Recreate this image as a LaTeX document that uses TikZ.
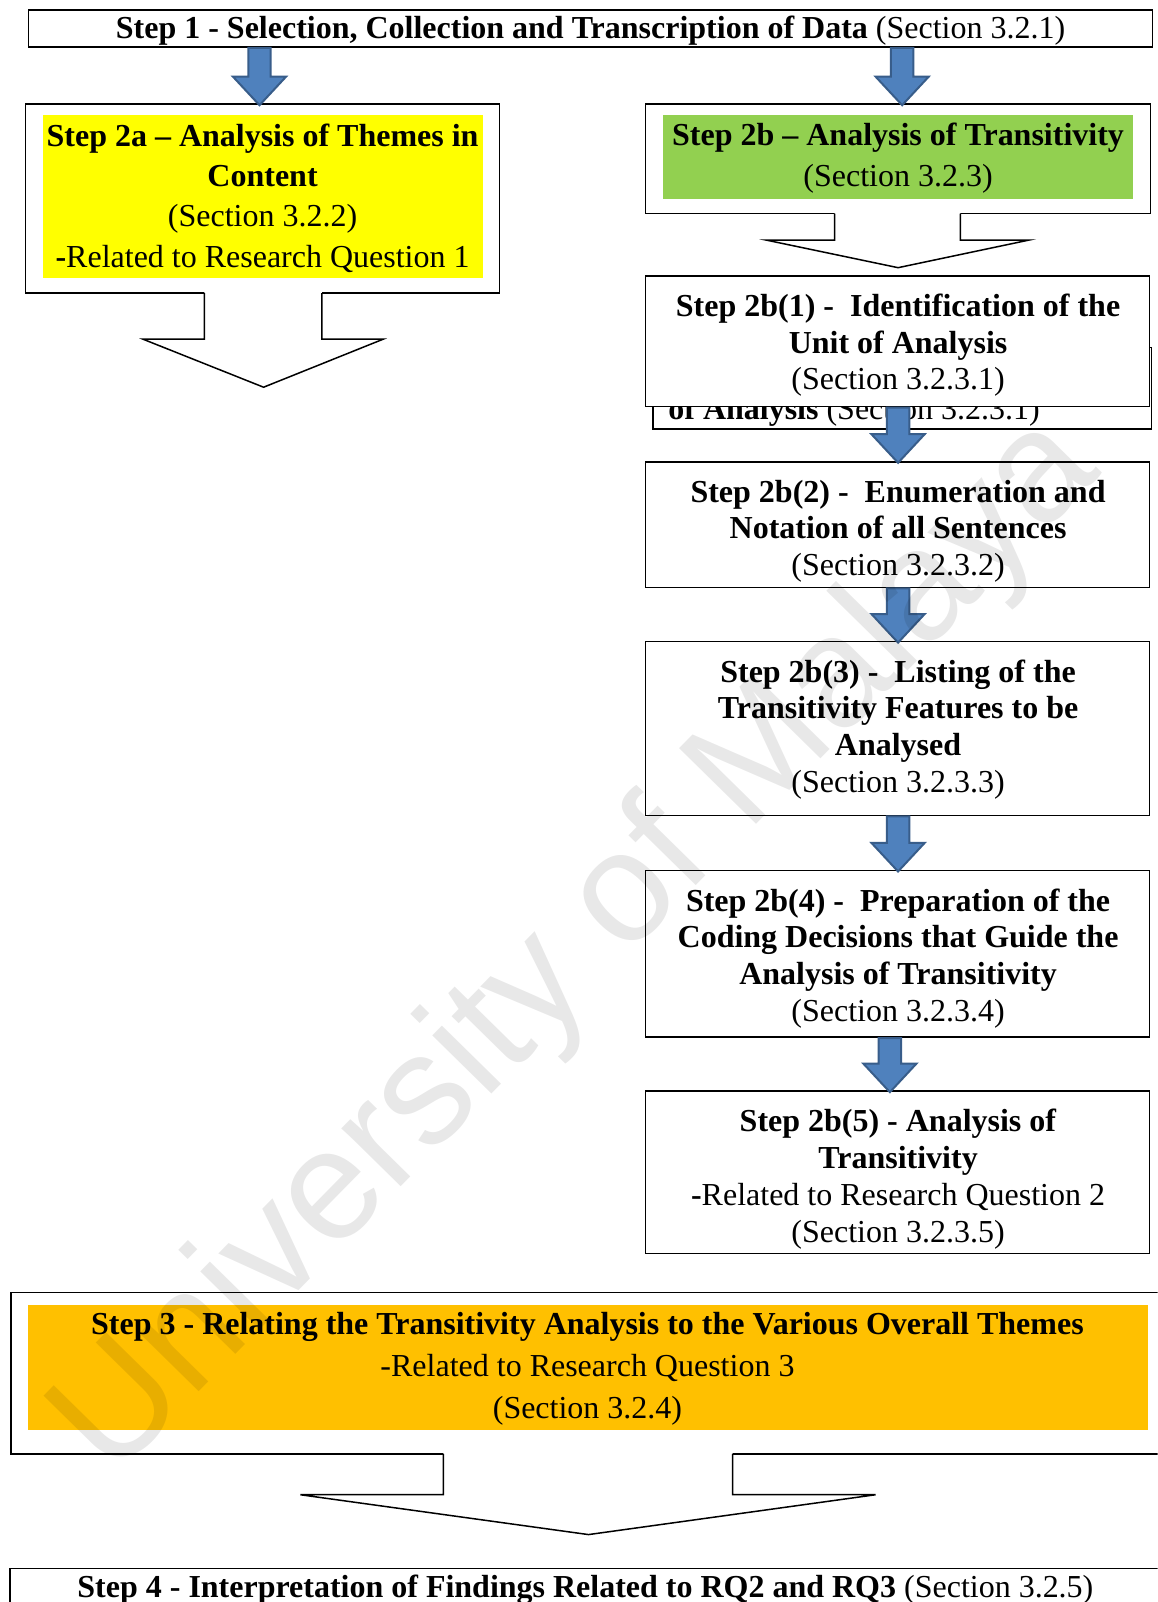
\documentclass[tikz,border=0pt]{standalone}
\usepackage{fontspec}
\setmainfont{Liberation Serif}
\newfontfamily\wmfont{Liberation Sans}
\usetikzlibrary{fit,calc}
\definecolor{ablue}{HTML}{4F81BD}
\definecolor{ablueb}{HTML}{385D8A}
\definecolor{yel}{HTML}{FFFF00}
\definecolor{grn}{HTML}{92D050}
\definecolor{org}{HTML}{FFC000}
\tikzset{
  box/.style={draw=black, line width=1.5pt, fill=white, inner sep=0pt, outer sep=0pt},
  txt/.style={align=center, font=\fontsize{32}{36.8}\selectfont, inner sep=0pt},
  barrowstyle/.style={fill=ablue, draw=ablueb, line width=2pt, line join=miter},
  harrowstyle/.style={draw=black, line width=1.5pt, line join=miter},
}
\newcommand\blockarrow[3]{%
  \draw[barrowstyle] let \p1=(#1 |- #2.south), \p2=(#1 |- #3.north) in
    (\x1-11.2pt,\y1-1pt) -- (\x1-11.2pt,\y2+27.6pt) -- (\x1-26.6pt,\y2+27.6pt) -- (\x1,\y2-1pt)
    -- (\x1+26.6pt,\y2+27.6pt) -- (\x1+11.2pt,\y2+27.6pt) -- (\x1+11.2pt,\y1-1pt) -- cycle;}
\begin{document}
\begin{tikzpicture}[x=1.022pt, y=-1.022pt]
\useasboundingbox (0,0) rectangle (1133,1568);
\clip (0,0) rectangle (1133,1568);
\fill[white] (0,0) rectangle (1133,1568);

% Step 1
\node[box, fit={(28,10)(1128,46)}] (s1) {};
\node[txt] (s1t) at (578,30) {\textbf{Step 1 - Selection, Collection and Transcription of Data} (Section 3.2.1)};

% Step 2a
\node[box, fit={(25,102)(489,287)}] (s2a) {};
\node[fill=yel, inner sep=0pt, fit={(42,113)(473,272)}] (s2af) {};
\node[txt, font=\fontsize{32}{40.2}\selectfont] (s2at) at (257,194) {\textbf{Step 2a -- Analysis of Themes in}\\ \textbf{Content}\\ (Section 3.2.2)\\ \textbf{-}Related to Research Question 1};

% Step 2b
\node[box, fit={(632,102)(1126,209)}] (s2b) {};
\node[fill=grn, inner sep=0pt, fit={(649,113)(1109,195)}] (s2bf) {};
\node[txt, font=\fontsize{32}{41}\selectfont] (s2bt) at (879,155) {\textbf{Step 2b -- Analysis of Transitivity}\\ (Section 3.2.3)};

% ghost box behind 2b(1)
\node[box, fit={(639,340)(1127,420)}] (ghost) {};
\node[anchor=base west, font=\fontsize{32}{36.8}\selectfont, inner sep=0pt] (ghostt) at (654,411) {\textbf{of Analysis} (Section 3.2.3.1)};

% Step 2b(1)
\node[box, fit={(632,270)(1125,398)}] (s2b1) {};
\node[txt] (s2b1t) at (879,338) {\textbf{Step 2b(1) -\ \ Identification of the}\\ \textbf{Unit of Analysis}\\ (Section 3.2.3.1)};

% Step 2b(2)
\node[box, fit={(632,452)(1125,575)}] (s2b2) {};
\node[txt] (s2b2t) at (879,520) {\textbf{Step 2b(2) -\ \ Enumeration and}\\ \textbf{Notation of all Sentences}\\ (Section 3.2.3.2)};

% Step 2b(3)
\node[box, fit={(632,628)(1125,798)}] (s2b3) {};
\node[txt] (s2b3t) at (879,714) {\textbf{Step 2b(3) -\ \ Listing of the}\\ \textbf{Transitivity Features to be}\\ \textbf{Analysed}\\ (Section 3.2.3.3)};

% Step 2b(4)
\node[box, fit={(632,852)(1125,1015)}] (s2b4) {};
\node[txt] (s2b4t) at (879,938) {\textbf{Step 2b(4) -\ \ Preparation of the}\\ \textbf{Coding Decisions that Guide the}\\ \textbf{Analysis of Transitivity}\\ (Section 3.2.3.4)};

% Step 2b(5)
\node[box, fit={(632,1068)(1125,1227)}] (s2b5) {};
\node[txt] (s2b5t) at (879,1154) {\textbf{Step 2b(5) - Analysis of}\\ \textbf{Transitivity}\\ \textbf{-}Related to Research Question 2\\ (Section 3.2.3.5)};

% Step 3
\node[box, fit={(11,1265)(1145,1423)}] (s3) {};
\node[fill=org, inner sep=0pt, fit={(27,1277)(1124,1400)}] (s3f) {};
\node[txt, font=\fontsize{32}{42}\selectfont] (s3t) at (575,1340) {\textbf{Step 3 - Relating the Transitivity Analysis to the Various Overall Themes}\\ -Related to Research Question 3\\ (Section 3.2.4)};

% Step 4
\node[box, fit={(10,1535)(1145,1590)}] (s4) {};
\node[txt] (s4t) at (573,1556) {\textbf{Step 4 - Interpretation of Findings Related to RQ2 and RQ3} (Section 3.2.5)};

% hollow block arrows
\coordinate (t2a) at (258,379);
\fill[white] (200,284) -- (200,332) -- (140,332) -- (t2a) -- (375,332) -- (315,332) -- (315,284) -- cycle;
\draw[harrowstyle] (200,287) -- (200,332) -- (140,332) -- (t2a) -- (375,332) -- (315,332) -- (315,287);

\coordinate (t2b) at (879,262);
\fill[white] (817,206) -- (817,235) -- (750,235) -- (t2b) -- (1007,235) -- (940,235) -- (940,206) -- cycle;
\draw[harrowstyle] (817,209) -- (817,235) -- (750,235) -- (t2b) -- (1007,235) -- (940,235) -- (940,209);

\coordinate (t3) at (576,1502);
\fill[white] (434,1420) -- (434,1463) -- (294,1463) -- (t3) -- (857,1463) -- (717,1463) -- (717,1420) -- cycle;
\draw[harrowstyle] (434,1423) -- (434,1463) -- (294,1463) -- (t3) -- (857,1463) -- (717,1463) -- (717,1423);

% blue block arrows
\coordinate (xa) at (254,0);
\coordinate (xb) at (883,0);
\coordinate (xc) at (879,0);
\coordinate (xd) at (871,0);
\blockarrow{xa}{s1}{s2a}
\blockarrow{xb}{s1}{s2b}
\blockarrow{xc}{s2b1}{s2b2}
\blockarrow{xc}{s2b2}{s2b3}
\blockarrow{xc}{s2b3}{s2b4}
\blockarrow{xd}{s2b4}{s2b5}

% watermark
\node[rotate=45.5, font=\fontsize{157}{157}\selectfont\wmfont, text=black, text opacity=0.09, inner sep=0pt] (wm) at (566,928) {University of Malaya};
\end{tikzpicture}
\end{document}
